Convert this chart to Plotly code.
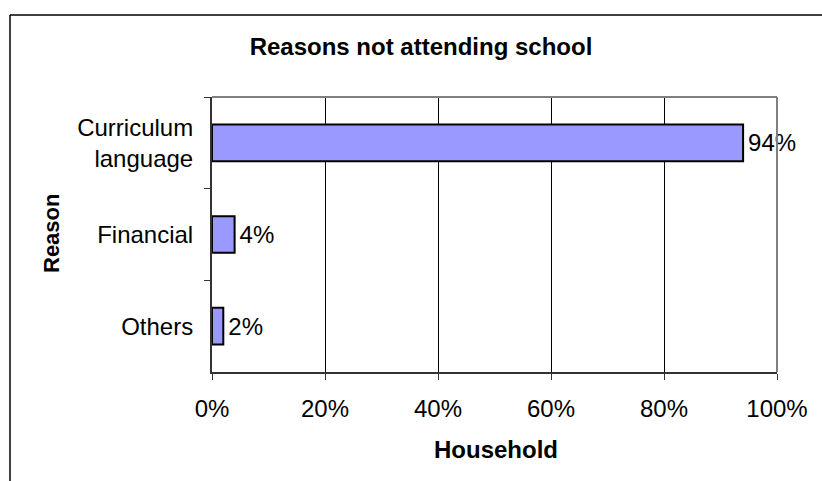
import plotly.graph_objects as go

categories = ["Curriculum<br>language", "Financial", "Others"]
values = [94, 4, 2]
value_labels = ["94%", "4%", "2%"]
x_tickvals = [0, 20, 40, 60, 80, 100]
x_ticktext = ["0%", "20%", "40%", "60%", "80%", "100%"]

FONT = "Liberation Sans, Arial, Helvetica, sans-serif"
W, H = 822, 481
L, R, T, B = 212, 45, 97, 109
PW, PH = W - L - R, H - T - B


def px_x(px):
    return (px - L) / PW


def px_y(py):
    return (H - B - py) / PH


fig = go.Figure()
fig.add_trace(go.Bar(
    x=values,
    y=categories,
    orientation="h",
    width=0.4,
    marker=dict(color="#9999FF", line=dict(color="black", width=2)),
    text=value_labels,
    texttemplate="\u200a%{text}",
    textposition="outside",
    textfont=dict(family=FONT, size=24, color="black"),
    cliponaxis=False,
    showlegend=False,
    hoverinfo="skip",
))

fig.update_layout(
    width=W, height=H, autosize=False,
    margin=dict(l=L, r=R, t=T, b=B, pad=0),
    paper_bgcolor="white", plot_bgcolor="white",
    font=dict(family=FONT, color="black"),
    title=dict(
        text="<b>Reasons not attending school</b>",
        x=421 / W, xanchor="center", xref="container",
        y=1 - 47 / H, yanchor="middle", yref="container",
        font=dict(family=FONT, size=24, color="black"),
    ),
    xaxis=dict(
        range=[0, 100], tickvals=x_tickvals, ticktext=x_ticktext,
        showgrid=True, gridcolor="black", gridwidth=1,
        showline=True, linecolor="#333333", linewidth=2,
        ticks="outside", ticklen=6, tickcolor="#333333", tickwidth=1,
        tickfont=dict(family=FONT, size=24, color="black"),
        ticklabelstandoff=8,
        zeroline=False, fixedrange=True,
    ),
    yaxis=dict(
        categoryorder="array", categoryarray=categories,
        autorange="reversed",
        showline=True, linecolor="#333333", linewidth=2,
        ticks="outside", tickson="boundaries", ticklen=6,
        tickcolor="#333333", tickwidth=1,
        tickfont=dict(family=FONT, size=24, color="black"),
        ticklabelstandoff=12,
        showgrid=False, zeroline=False, fixedrange=True,
    ),
    bargap=0.6,
)

# plot-area border (top and right, gray)
fig.add_shape(type="line", xref="paper", yref="paper", x0=0, x1=1, y0=1, y1=1,
              line=dict(color="#808080", width=2), layer="above")
fig.add_shape(type="line", xref="paper", yref="paper", x0=1, x1=1, y0=0, y1=1,
              line=dict(color="#808080", width=2), layer="above")

# outer chart frame (left and top edges visible)
fig.add_shape(type="line", xref="paper", yref="paper",
              x0=px_x(10), x1=px_x(10), y0=px_y(15), y1=px_y(H + 5),
              line=dict(color="black", width=1.5))
fig.add_shape(type="line", xref="paper", yref="paper",
              x0=px_x(10), x1=px_x(W + 5), y0=px_y(15), y1=px_y(15),
              line=dict(color="black", width=1.5))

# axis titles
fig.add_annotation(text="<b>Household</b>", xref="paper", yref="paper",
                   x=px_x(496), y=px_y(449), xanchor="center", yanchor="middle",
                   showarrow=False, font=dict(family=FONT, size=24, color="black"))
fig.add_annotation(text="<b>Reason</b>", xref="paper", yref="paper",
                   x=px_x(51), y=px_y(234), xanchor="center", yanchor="middle",
                   textangle=-90, showarrow=False,
                   font=dict(family=FONT, size=22, color="black"))

fig.write_html(
    "out.html",
    config={"displayModeBar": False, "staticPlot": True},
    post_script="document.body.style.margin='0';document.body.style.overflow='hidden';",
)
